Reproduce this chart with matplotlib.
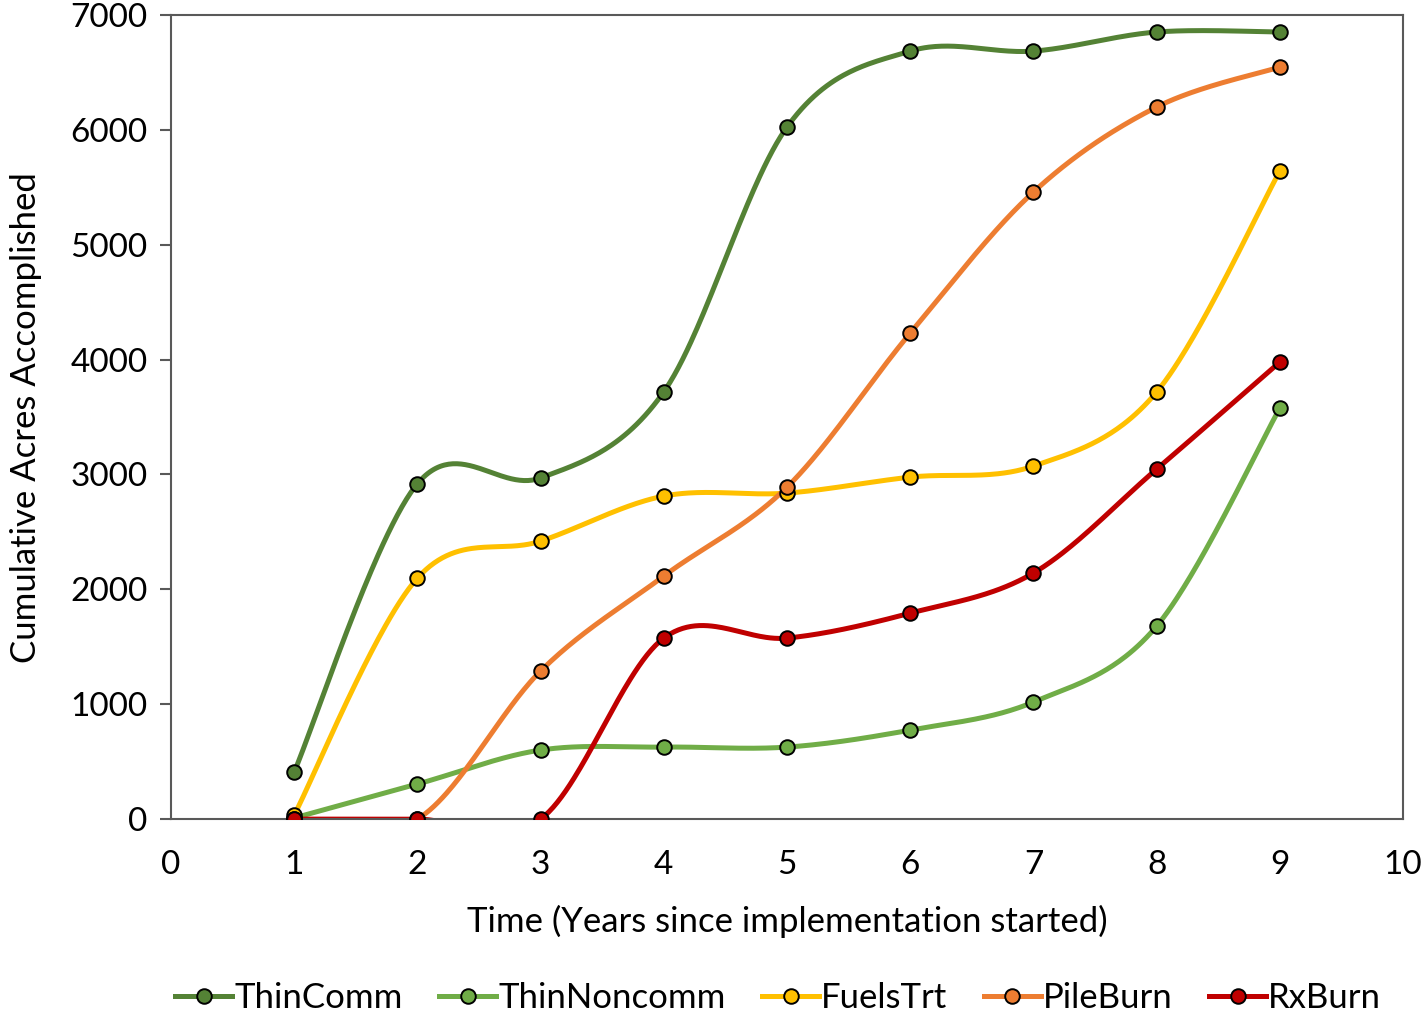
import numpy as np
import matplotlib
matplotlib.use("Agg")
import matplotlib.pyplot as plt
from matplotlib.lines import Line2D

plt.rcParams['font.family'] = ['Lato', 'DejaVu Sans']

years = [1, 2, 3, 4, 5, 6, 7, 8, 9]
thin_comm = [410, 2920, 2970, 3720, 6025, 6686, 6686, 6852, 6852]
thin_noncomm = [10, 305, 601, 627, 627, 775, 1019, 1680, 3578]
fuels_trt = [35, 2098, 2420, 2812, 2838, 2977, 3073, 3718, 5642]
pile_burn = [0, 0, 1289, 2116, 2890, 4231, 5459, 6199, 6547]
rx_burn = [0, 0, 0, 1576, 1576, 1793, 2142, 3047, 3979]

series_names = ["ThinComm", "ThinNoncomm", "FuelsTrt", "PileBurn", "RxBurn"]
series_vals = [thin_comm, thin_noncomm, fuels_trt, pile_burn, rx_burn]
colors = ["#548235", "#70AD47", "#FFC000", "#ED7D31", "#C00000"]


def smooth(x, y, n=60):
    x = np.asarray(x, float)
    y = np.asarray(y, float)
    P = np.column_stack([x, y])
    out = [P[0]]
    m = len(P)
    for i in range(m - 1):
        p0 = P[i - 1] if i > 0 else P[i]
        p1 = P[i]
        p2 = P[i + 1]
        p3 = P[i + 2] if i + 2 < m else P[i + 1]
        c1 = p1 + (p2 - p0) / 6.0
        c2 = p2 - (p3 - p1) / 6.0
        t = np.linspace(0, 1, n)[1:, None]
        b = ((1 - t) ** 3) * p1 + 3 * ((1 - t) ** 2) * t * c1 + 3 * (1 - t) * t ** 2 * c2 + t ** 3 * p2
        out.extend(b)
    out = np.array(out)
    return out[:, 0], out[:, 1]


fig = plt.figure(figsize=(14.25, 10.15), dpi=100)
ax = fig.add_axes([0.12, 0.193, 0.8646, 0.7922])

lw = 3.6
ms = 10.5
for name, vals, c in zip(series_names, series_vals, colors):
    sx, sy = smooth(years, vals)
    ax.plot(sx, sy, color=c, lw=lw, solid_capstyle='round', zorder=2)
for name, vals, c in zip(series_names, series_vals, colors):
    ax.plot(years, vals, ls='none', marker='o', ms=ms, mfc=c, mec='black', mew=1.4, zorder=3)

ax.set_xlim(0, 10)
ax.set_ylim(0, 7000)
ax.set_xticks(range(0, 11))
ax.set_yticks(range(0, 7001, 1000))
for s in ax.spines.values():
    s.set_color('#595959')
    s.set_linewidth(1.5)
ax.tick_params(axis='x', length=0, pad=22, labelsize=24)
ax.tick_params(axis='y', length=8, width=1.5, color='#595959', pad=9, labelsize=24)

ax.set_xlabel("Time (Years since implementation started)", fontsize=25, labelpad=18)
ax.set_ylabel("Cumulative Acres Accomplished", fontsize=25, labelpad=20)

handles = [Line2D([0], [0], color=c, lw=lw, marker='o', ms=ms, mfc=c, mec='black', mew=1.4)
           for c in colors]
fig.legend(handles, series_names, loc='lower center', bbox_to_anchor=(0.546, -0.030), ncol=5,
           frameon=False, fontsize=25, handlelength=1.65, handletextpad=0.05, columnspacing=1.05)

fig.savefig("out.png", dpi=100)
